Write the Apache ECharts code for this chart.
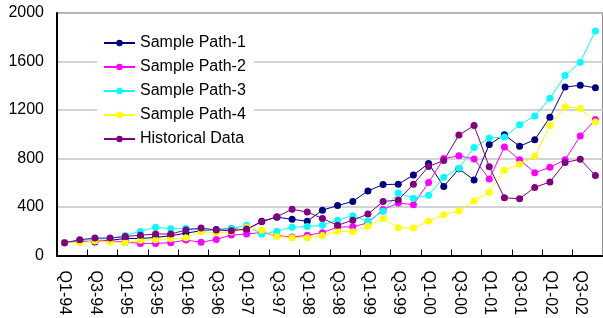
<!DOCTYPE html>
<html>
<head>
<meta charset="utf-8">
<style>
  html, body { margin: 0; padding: 0; background: #fff; }
  #chart { width: 603px; height: 318px; }
</style>
<script src="https://cdn.jsdelivr.net/npm/echarts@6.0.0/dist/echarts.min.js"></script>
</head>
<body>
<div id="chart"></div>
<script>
// quarters Q1-94 .. Q4-02
const quarters = [
    'Q1-94', 'Q2-94', 'Q3-94', 'Q4-94', 'Q1-95', 'Q2-95', 'Q3-95', 'Q4-95',
    'Q1-96', 'Q2-96', 'Q3-96', 'Q4-96', 'Q1-97', 'Q2-97', 'Q3-97', 'Q4-97',
    'Q1-98', 'Q2-98', 'Q3-98', 'Q4-98', 'Q1-99', 'Q2-99', 'Q3-99', 'Q4-99',
    'Q1-00', 'Q2-00', 'Q3-00', 'Q4-00', 'Q1-01', 'Q2-01', 'Q3-01', 'Q4-01',
    'Q1-02', 'Q2-02', 'Q3-02', 'Q4-02'
];

const seriesNames = ['Sample Path-1', 'Sample Path-2', 'Sample Path-3', 'Sample Path-4', 'Historical Data'];
const seriesColors = ['#000080', '#ff00ff', '#00ffff', '#ffff00', '#800080'];

const samplePath1 = [106, 120, 112, 125, 141, 140, 150, 163, 185, 204, 215, 220,
    212, 283, 316, 299, 283, 374, 412, 446, 533, 585, 588, 664,
    759, 570, 715, 623, 915, 996, 901, 955, 1140, 1390, 1404, 1383];
const samplePath2 = [106, 115, 120, 122, 110, 100, 100, 106, 128, 109, 133, 169,
    177, 190, 165, 152, 167, 188, 234, 237, 269, 380, 433, 419,
    602, 800, 822, 797, 631, 895, 790, 683, 727, 790, 985, 1121];
const samplePath3 = [106, 125, 135, 140, 166, 199, 234, 220, 226, 212, 207, 220,
    250, 176, 201, 234, 239, 250, 291, 329, 283, 365, 516, 473,
    498, 645, 720, 890, 969, 977, 1079, 1150, 1296, 1484, 1594, 1851];
const samplePath4 = [106, 106, 120, 112, 106, 125, 131, 139, 147, 196, 188, 196,
    234, 208, 157, 147, 147, 166, 201, 196, 242, 305, 229, 227,
    285, 337, 368, 450, 522, 703, 752, 820, 1072, 1227, 1212, 1101];
const historical = [106, 130, 144, 144, 157, 167, 178, 177, 211, 227, 210, 204,
    218, 278, 320, 382, 358, 306, 249, 291, 342, 445, 458, 588,
    735, 784, 993, 1072, 732, 476, 468, 562, 607, 767, 794, 659];

const yTicks = { min: 0, max: 2000, interval: 400 };

const chart = echarts.init(document.getElementById('chart'), null, { renderer: 'canvas' });
const font = 'Liberation Sans, Arial, sans-serif';
const allData = [samplePath1, samplePath2, samplePath3, samplePath4, historical];

const option = {
    animation: false,
    backgroundColor: '#fff',
    textStyle: { fontFamily: font, color: '#000' },
    grid: {
        left: 57, top: 13, width: 550, height: 245,
        show: true, borderColor: '#222', borderWidth: 1
    },
    legend: {
        orient: 'vertical', left: 97, top: 28,
        data: seriesNames,
        backgroundColor: '#fff',
        padding: [7, 8, 7, 6],
        itemWidth: 31, itemHeight: 8, itemGap: 8,
        textStyle: { fontFamily: font, fontSize: 16, color: '#000' }
    },
    xAxis: {
        type: 'category', data: quarters, boundaryGap: true,
        axisLine: { lineStyle: { color: '#000', width: 2 } },
        axisTick: { show: true, inside: true, length: 6, lineStyle: { color: '#000' } },
        axisLabel: {
            interval: 1, rotate: -90, margin: 15,
            fontFamily: font, fontSize: 16, color: '#000'
        },
        splitLine: { show: false }
    },
    yAxis: {
        type: 'value', min: yTicks.min, max: yTicks.max, interval: yTicks.interval,
        axisLine: { show: true, lineStyle: { color: '#000', width: 2 } },
        axisTick: { show: false },
        axisLabel: {
            margin: 13, fontFamily: font, fontSize: 16, color: '#000',
            formatter: v => String(v)
        },
        splitLine: { lineStyle: { color: '#c4c4c4', width: 1.5 } }
    },
    series: seriesNames.map((name, i) => ({
        name: name, type: 'line', data: allData[i],
        symbol: 'circle', symbolSize: 7, showAllSymbol: true,
        itemStyle: { color: seriesColors[i] },
        lineStyle: { color: seriesColors[i], width: 1 }
    }))
};
chart.setOption(option);
</script>
</body>
</html>
